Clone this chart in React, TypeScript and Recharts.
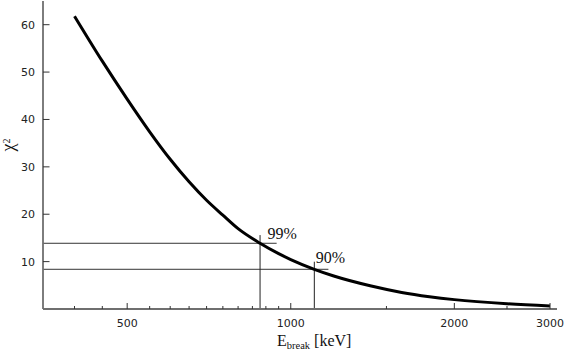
import React from 'react';
import { LineChart, Line, XAxis, YAxis, ReferenceLine } from 'recharts';

// Data
const energies = [400, 450, 500, 550, 600, 650, 700, 750, 800, 878, 950, 1000, 1105, 1200, 1400, 1600, 1800, 2000, 2500, 3000];
const chi2Values = [61.8, 52.3, 44.3, 37.4, 31.6, 26.85, 22.95, 19.8, 16.95, 13.87, 11.67, 10.44, 8.38, 6.97, 4.91, 3.5, 2.6, 1.98, 1.1, 0.63];

const xMajorTicks = [500, 1000, 2000, 3000];
const xMinorTicks = [400, 450, 550, 600, 650, 700, 750, 800, 850, 900, 950, 1500, 2500];
const yTicks = [10, 20, 30, 40, 50, 60];
const xDomain = [350, 3090];
const yDomain = [0, 65];

// Confidence levels
const levelLabels = ['99%', '90%'];
const levelChi2 = [13.87, 8.38];
const levelHLineEnd = [942, 1173];
const levelE = [878, 1105];
const levelVLineTop = [15.6, 9.98];
const levelLabelOffsets = [[7.5, 3.5], [1.5, 1]];

const data = energies.map((e, i) => ({ e, chi2: chi2Values[i] }));
const allXTicks = [...xMajorTicks, ...xMinorTicks].sort((a, b) => a - b);

const AXIS_COLOR = '#6f6f6f';
const TICK_COLOR = '#333';
const SANS = 'DejaVu Sans';
const SERIF = 'Liberation Serif';

const BottomTick = (props: any) => {
  const { x, y, payload } = props;
  const v = payload.value;
  const major = xMajorTicks.includes(v);
  return (
    <g>
      <line x1={x} x2={x} y1={y} y2={y - (major ? 6 : 3)} stroke={TICK_COLOR} strokeWidth={1} />
      {major && (
        <text x={x} y={y + 18} textAnchor="middle" fontFamily={SANS} fontSize={11} fill="#222">
          {v}
        </text>
      )}
    </g>
  );
};

const TopTick = (props: any) => {
  const { x, y, payload } = props;
  const major = xMajorTicks.includes(payload.value);
  return <line x1={x} x2={x} y1={y} y2={y + (major ? 6 : 3)} stroke={TICK_COLOR} strokeWidth={1} />;
};

const LeftTick = (props: any) => {
  const { x, y, payload } = props;
  return (
    <g>
      <line x1={x} x2={x + 6.5} y1={y} y2={y} stroke={TICK_COLOR} strokeWidth={1} />
      <text x={x - 8} y={y + 4} textAnchor="end" fontFamily={SANS} fontSize={11} fill="#222">
        {payload.value}
      </text>
    </g>
  );
};

const RightTick = (props: any) => {
  const { x, y } = props;
  return <line x1={x} x2={x - 6.5} y1={y} y2={y} stroke={TICK_COLOR} strokeWidth={1} />;
};

const XLabel = (props: any) => {
  const vb = props.viewBox || {};
  const x = (vb.x ?? 43) + 234;
  const y = (vb.y ?? 309) + 37;
  return (
    <text x={x} y={y} fontFamily={SERIF} fontSize={16} fill="#111">
      <tspan>E</tspan>
      <tspan fontSize={10.5} dy={3}>break</tspan>
      <tspan dy={-3}> [keV]</tspan>
    </text>
  );
};

const YLabel = (props: any) => {
  const vb = props.viewBox || {};
  const cx = (vb.x ?? 0) + 13.5;
  const cy = (vb.y ?? 1) + 144;
  return (
    <text x={cx} y={cy} transform={`rotate(-90, ${cx}, ${cy})`} textAnchor="middle" fontFamily={SERIF} fontSize={18} fill="#111">
      <tspan>χ</tspan>
      <tspan fontSize={10} dy={-4}>2</tspan>
    </text>
  );
};

const makeLevelLabel = (i: number) => (props: any) => {
  const vb = props.viewBox || {};
  const x = vb.x ?? Math.min(vb.x1, vb.x2);
  const y = vb.y ?? Math.min(vb.y1, vb.y2);
  return (
    <text x={x + levelLabelOffsets[i][0]} y={y + levelLabelOffsets[i][1]} fontFamily={SERIF} fontSize={16} fill="#111">
      {levelLabels[i]}
    </text>
  );
};

export default function App() {
  return (
    <div style={{ position: 'absolute', left: 0, top: 0, width: 566, height: 350, background: '#fff' }}>
      <LineChart width={566} height={350} data={data} margin={{ top: 1, right: 9, left: 0, bottom: 0 }}>
        <XAxis
          xAxisId="bottom"
          dataKey="e"
          type="number"
          scale="log"
          domain={xDomain}
          allowDataOverflow
          ticks={allXTicks}
          interval={0}
          tickSize={0}
          tickMargin={0}
          tickLine={false}
          tick={<BottomTick />}
          axisLine={{ stroke: AXIS_COLOR, strokeWidth: 1.8 }}
          height={41}
          orientation="bottom"
          label={<XLabel />}
        />
        <XAxis
          xAxisId="top"
          dataKey="e"
          type="number"
          scale="log"
          domain={xDomain}
          allowDataOverflow
          ticks={allXTicks}
          interval={0}
          tickSize={0}
          tickMargin={0}
          tickLine={false}
          tick={<TopTick />}
          axisLine={{ stroke: AXIS_COLOR, strokeWidth: 1.8 }}
          height={0}
          orientation="top"
        />
        <YAxis
          yAxisId="left"
          type="number"
          domain={yDomain}
          allowDataOverflow
          ticks={yTicks}
          interval={0}
          tickSize={0}
          tickMargin={0}
          tickLine={false}
          tick={<LeftTick />}
          axisLine={{ stroke: AXIS_COLOR, strokeWidth: 1.8 }}
          width={43}
          orientation="left"
          label={<YLabel />}
        />
        <YAxis
          yAxisId="right"
          type="number"
          domain={yDomain}
          allowDataOverflow
          ticks={yTicks}
          interval={0}
          tickSize={0}
          tickMargin={0}
          tickLine={false}
          tick={<RightTick />}
          axisLine={{ stroke: AXIS_COLOR, strokeWidth: 1.8 }}
          width={0}
          orientation="right"
        />
        {levelLabels.map((lab, i) => (
          <ReferenceLine
            key={'h' + lab}
            xAxisId="bottom"
            yAxisId="left"
            segment={[
              { x: xDomain[0], y: levelChi2[i] },
              { x: levelHLineEnd[i], y: levelChi2[i] },
            ]}
            stroke="#333"
            strokeWidth={1}
          />
        ))}
        {levelLabels.map((lab, i) => (
          <ReferenceLine
            key={'v' + lab}
            xAxisId="bottom"
            yAxisId="left"
            segment={[
              { x: levelE[i], y: 0 },
              { x: levelE[i], y: levelVLineTop[i] },
            ]}
            stroke="#222"
            strokeWidth={1}
            label={{ content: makeLevelLabel(i) } as any}
          />
        ))}
        <Line
          xAxisId="top"
          yAxisId="right"
          dataKey="chi2"
          stroke="none"
          dot={false}
          activeDot={false}
          isAnimationActive={false}
        />
        <Line
          xAxisId="bottom"
          yAxisId="left"
          type="monotone"
          dataKey="chi2"
          stroke="#000"
          strokeWidth={3}
          dot={false}
          activeDot={false}
          isAnimationActive={false}
        />
      </LineChart>
    </div>
  );
}
